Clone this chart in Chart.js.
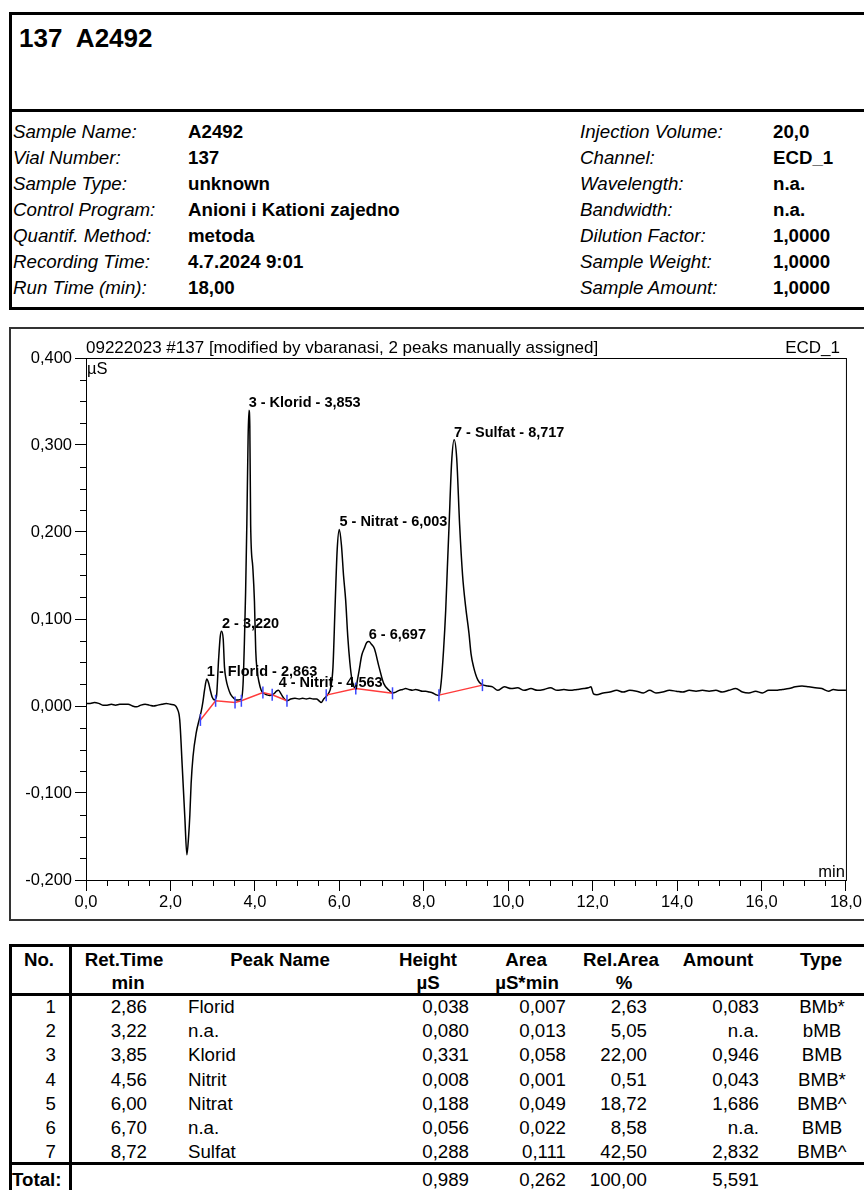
<!DOCTYPE html>
<html>
<head>
<meta charset="utf-8">
<title>137 A2492</title>
<script src="https://cdn.jsdelivr.net/npm/chart.js@4.4.1/dist/chart.umd.min.js"></script>
<style>
  body { margin: 0; width: 864px; height: 1190px; overflow: hidden; background: #fff; position: relative;
         font-family: "Liberation Sans", Arial, sans-serif; color: #000; }
  .t { position: absolute; white-space: nowrap; height: 26px; line-height: 26px; font-size: 18.7px; }
  .b { font-weight: bold; }
  .i { font-style: italic; }
  .line { position: absolute; background: #000; }
  #head-box { position: absolute; left: 9px; top: 12px; width: 900px; height: 298px; border: 3px solid #000; box-sizing: border-box; }
  #chart-box { position: absolute; left: 9px; top: 327px; width: 900px; height: 594px; border: 2px solid #333; box-sizing: border-box; }
  #chart { position: absolute; left: 0; top: 328px; }
</style>
</head>
<body>
<div id="head-box"></div>
<div class="line" style="left:9px;top:109px;width:900px;height:3px"></div>
<div class="t b" style="left:19px;top:25px;font-size:26px">137&nbsp; A2492</div>
<div id="info"></div>
<div id="chart-box"></div>
<canvas id="chart" width="864" height="592"></canvas>
<div id="peak-table"></div>

<script>
// ─── Data ─────────────────────────────────────────────────────────────────────

const infoLeft = [
  ["Sample Name:", "A2492"],
  ["Vial Number:", "137"],
  ["Sample Type:", "unknown"],
  ["Control Program:", "Anioni i Kationi zajedno"],
  ["Quantif. Method:", "metoda"],
  ["Recording Time:", "4.7.2024 9:01"],
  ["Run Time (min):", "18,00"],
];
const infoRight = [
  ["Injection Volume:", "20,0"],
  ["Channel:", "ECD_1"],
  ["Wavelength:", "n.a."],
  ["Bandwidth:", "n.a."],
  ["Dilution Factor:", "1,0000"],
  ["Sample Weight:", "1,0000"],
  ["Sample Amount:", "1,0000"],
];

// chromatogram trace (min, µS)
const timeMin = [
  0.00, 0.10, 0.20, 0.30, 0.40, 0.50, 0.60, 0.70, 0.80, 0.90, 1.00, 1.10, 1.20, 1.30, 1.40, 1.50,
  1.60, 1.70, 1.80, 1.90, 2.00, 2.10, 2.16, 2.22, 2.28, 2.34, 2.39, 2.43, 2.46, 2.49, 2.535, 2.61,
  2.69, 2.73, 2.77, 2.81, 2.86, 2.90, 2.94, 2.99, 3.04, 3.09, 3.14, 3.18, 3.21, 3.25, 3.28, 3.32,
  3.36, 3.42, 3.48, 3.55, 3.62, 3.68, 3.72, 3.75, 3.78, 3.81, 3.84, 3.86, 3.88, 3.90, 3.95, 3.99,
  4.02, 4.05, 4.10, 4.15, 4.20, 4.28, 4.35, 4.42, 4.47, 4.51, 4.56, 4.62, 4.67, 4.76, 4.85, 4.95,
  5.05, 5.13, 5.22, 5.30, 5.38, 5.46, 5.52, 5.57, 5.63, 5.69, 5.75, 5.80, 5.85, 5.90, 5.95, 6.00,
  6.05, 6.10, 6.15, 6.20, 6.25, 6.30, 6.35, 6.39, 6.43, 6.47, 6.53, 6.59, 6.65, 6.70, 6.76, 6.83,
  6.94, 7.05, 7.18, 7.26, 7.34, 7.42, 7.50, 7.57, 7.65, 7.73, 7.81, 7.89, 7.97, 8.05, 8.13, 8.21,
  8.29, 8.36, 8.41, 8.47, 8.52, 8.56, 8.60, 8.66, 8.72, 8.78, 8.85, 8.92, 8.99, 9.07, 9.12, 9.18,
  9.28, 9.37, 9.52, 9.63, 9.75, 9.91, 10.07, 10.22, 10.38, 10.54, 10.69, 10.85, 11.00, 11.16, 11.32, 11.47,
  11.63, 11.79, 11.90, 11.96, 12.02, 12.10, 12.25, 12.41, 12.57, 12.72, 12.88, 13.04, 13.20, 13.35, 13.50, 13.66,
  13.82, 13.98, 14.13, 14.29, 14.45, 14.60, 14.76, 14.92, 15.07, 15.23, 15.39, 15.55, 15.70, 15.86, 16.02, 16.17,
  16.33, 16.49, 16.65, 16.80, 16.96, 17.12, 17.27, 17.43, 17.59, 17.70, 17.85, 18.00,
];
const signalUS = [
  0.003, 0.003, 0.004, 0.003, 0.001, 0.001, 0.002, 0.001, 0.002, 0.002, 0.002, 0.000, -0.001, 0.001, 0.002, 0.001,
  0.000, 0.001, 0.002, 0.003, 0.002, 0.001, -0.003, -0.016, -0.070, -0.127, -0.171, -0.150, -0.125, -0.089, -0.058, -0.031,
  -0.014, -0.006, 0.005, 0.019, 0.031, 0.027, 0.019, 0.010, 0.007, 0.011, 0.053, 0.080, 0.086, 0.077, 0.045, 0.030,
  0.022, 0.014, 0.010, 0.007, 0.007, 0.008, 0.025, 0.070, 0.130, 0.210, 0.310, 0.340, 0.322, 0.208, 0.160, 0.120,
  0.064, 0.042, 0.027, 0.018, 0.015, 0.013, 0.012, 0.013, 0.015, 0.017, 0.018, 0.014, 0.010, 0.006, 0.008, 0.009,
  0.008, 0.009, 0.008, 0.009, 0.008, 0.008, 0.006, 0.004, 0.008, 0.011, 0.015, 0.022, 0.045, 0.115, 0.180, 0.203,
  0.185, 0.150, 0.122, 0.080, 0.050, 0.030, 0.022, 0.020, 0.030, 0.041, 0.058, 0.066, 0.073, 0.074, 0.071, 0.066,
  0.045, 0.026, 0.018, 0.015, 0.016, 0.018, 0.019, 0.020, 0.019, 0.018, 0.019, 0.018, 0.017, 0.017, 0.016, 0.015,
  0.013, 0.012, 0.026, 0.065, 0.110, 0.160, 0.208, 0.280, 0.306, 0.285, 0.208, 0.150, 0.115, 0.084, 0.060, 0.045,
  0.030, 0.025, 0.023, 0.022, 0.018, 0.022, 0.020, 0.021, 0.018, 0.020, 0.018, 0.019, 0.021, 0.018, 0.019, 0.018,
  0.019, 0.020, 0.021, 0.022, 0.014, 0.013, 0.015, 0.016, 0.018, 0.016, 0.018, 0.017, 0.015, 0.018, 0.015, 0.016,
  0.018, 0.017, 0.016, 0.018, 0.017, 0.018, 0.017, 0.018, 0.016, 0.018, 0.020, 0.016, 0.015, 0.017, 0.015, 0.018,
  0.018, 0.019, 0.020, 0.022, 0.023, 0.022, 0.021, 0.020, 0.017, 0.019, 0.018, 0.018,
];

// integration baseline (red), null = break between peak groups
const baseTime = [2.71, 3.07, 3.53, 3.68, 4.19, 4.41, 4.76, null, 5.69, 6.39, 7.26, null, 8.36, 9.39];
const baseUS   = [-0.016, 0.006, 0.004, 0.006, 0.0155, 0.013, 0.006, null, 0.0125, 0.020, 0.0146, null, 0.0125, 0.024];

const peakLabels = ["1 - Florid - 2,863", "2 - 3,220", "3 - Klorid - 3,853", "4 - Nitrit - 4,563",
                    "5 - Nitrat - 6,003", "6 - 6,697", "7 - Sulfat - 8,717"];
const peakTimes = [2.863, 3.220, 3.853, 4.563, 6.003, 6.697, 8.717];

// peak table
const peakNo   = ["1", "2", "3", "4", "5", "6", "7"];
const retTime  = ["2,86", "3,22", "3,85", "4,56", "6,00", "6,70", "8,72"];
const peakName = ["Florid", "n.a.", "Klorid", "Nitrit", "Nitrat", "n.a.", "Sulfat"];
const heightUS = ["0,038", "0,080", "0,331", "0,008", "0,188", "0,056", "0,288"];
const areaUS   = ["0,007", "0,013", "0,058", "0,001", "0,049", "0,022", "0,111"];
const relArea  = ["2,63", "5,05", "22,00", "0,51", "18,72", "8,58", "42,50"];
const amount   = ["0,083", "n.a.", "0,946", "0,043", "1,686", "n.a.", "2,832"];
const peakType = ["BMb*", "bMB", "BMB", "BMB*", "BMB^", "BMB", "BMB^"];
const totals   = { height: "0,989", area: "0,262", rel: "100,00", amount: "5,591" };

// ─── Page text ────────────────────────────────────────────────────────────────

function place(parent, text, x, yc, align, cls) {
  const el = document.createElement("div");
  el.className = "t " + (cls || "");
  el.textContent = text;
  el.style.top = (yc - 13) + "px";
  if (align === "right") { el.style.left = (x - 300) + "px"; el.style.width = "300px"; el.style.textAlign = "right"; }
  else if (align === "center") { el.style.left = (x - 150) + "px"; el.style.width = "300px"; el.style.textAlign = "center"; }
  else el.style.left = x + "px";
  parent.appendChild(el);
}

const info = document.getElementById("info");
infoLeft.forEach(([k, v], i) => {
  place(info, k, 13, 132 + i * 26, "left", "i");
  place(info, v, 188, 132 + i * 26, "left", "b");
});
infoRight.forEach(([k, v], i) => {
  place(info, k, 580, 132 + i * 26, "left", "i");
  place(info, v, 773, 132 + i * 26, "left", "b");
});

const tbl = document.getElementById("peak-table");
[[9, 944, 900, 3], [9, 993, 900, 3], [9, 1162, 900, 3]].forEach(([l, t, w, h]) => {
  const d = document.createElement("div");
  d.className = "line";
  Object.assign(d.style, { left: l + "px", top: t + "px", width: w + "px", height: h + "px" });
  tbl.appendChild(d);
});
[[9, 944], [69, 944]].forEach(([l, t]) => {
  const d = document.createElement("div");
  d.className = "line";
  Object.assign(d.style, { left: l + "px", top: t + "px", width: "3px", height: (1190 - t) + "px" });
  tbl.appendChild(d);
});

place(tbl, "No.", 39, 960, "center", "b");
place(tbl, "Ret.Time", 124, 960, "center", "b");
place(tbl, "min", 128, 983, "center", "b");
place(tbl, "Peak Name", 280, 960, "center", "b");
place(tbl, "Height", 428, 960, "center", "b");
place(tbl, "µS", 428, 983, "center", "b");
place(tbl, "Area", 526, 960, "center", "b");
place(tbl, "µS*min", 527, 983, "center", "b");
place(tbl, "Rel.Area", 621, 960, "center", "b");
place(tbl, "%", 624, 983, "center", "b");
place(tbl, "Amount", 718, 960, "center", "b");
place(tbl, "Type", 821, 960, "center", "b");

peakNo.forEach((n, i) => {
  const yc = 1007 + i * 24.2;
  place(tbl, n, 56, yc, "right");
  place(tbl, retTime[i], 147, yc, "right");
  place(tbl, peakName[i], 188, yc, "left");
  place(tbl, heightUS[i], 469, yc, "right");
  place(tbl, areaUS[i], 566, yc, "right");
  place(tbl, relArea[i], 647, yc, "right");
  place(tbl, amount[i], 759, yc, "right");
  place(tbl, peakType[i], 822, yc, "center");
});
place(tbl, "Total:", 12, 1180, "left", "b");
place(tbl, totals.height, 469, 1180, "right");
place(tbl, totals.area, 566, 1180, "right");
place(tbl, totals.rel, 647, 1180, "right");
place(tbl, totals.amount, 759, 1180, "right");

// ─── Chart ────────────────────────────────────────────────────────────────────

const FONT = '"Liberation Sans", Arial, sans-serif';
Chart.defaults.font.family = FONT;
Chart.defaults.color = "#000";

const isMajorX = v => Math.abs(Math.round(v * 10) % 20) === 0;
const isMajorY = v => Math.abs(Math.round(v * 1000) % 100) === 0;
const comma = (v, d) => (Math.round(v * 1000) / 1000).toFixed(d).replace(".", ",");

const trace = timeMin.map((t, i) => ({ x: t, y: signalUS[i] }));
const baseline = baseTime.map((t, i) => ({ x: t === null ? (baseTime[i - 1] + baseTime[i + 1]) / 2 : t, y: baseUS[i] }));
const bounds = baseline.filter(p => p.y !== null);

function apexOf(t) {
  let best = 0;
  timeMin.forEach((tm, i) => { if (Math.abs(tm - t) < Math.abs(timeMin[best] - t)) best = i; });
  return signalUS[best];
}

const decor = {
  id: "decor",
  afterDraw(chart) {
    const { ctx, chartArea: a, scales: { x, y } } = chart;
    ctx.save();
    ctx.strokeStyle = "#000";
    ctx.lineWidth = 1;
    ctx.strokeRect(a.left + 0.5, a.top + 0.5, a.right - a.left, a.bottom - a.top);

    // minor ticks (major ones come from the scales)
    ctx.beginPath();
    x.ticks.forEach(t => {
      if (isMajorX(t.value)) return;
      const px = Math.round(x.getPixelForValue(t.value)) + 0.5;
      ctx.moveTo(px, a.bottom); ctx.lineTo(px, a.bottom + 6);
    });
    y.ticks.forEach(t => {
      if (isMajorY(t.value)) return;
      const py = Math.round(y.getPixelForValue(t.value)) + 0.5;
      ctx.moveTo(a.left, py); ctx.lineTo(a.left - 6, py);
    });
    ctx.stroke();

    ctx.fillStyle = "#000";
    ctx.font = "17px " + FONT;
    ctx.textBaseline = "alphabetic";
    ctx.textAlign = "left";
    ctx.fillText("09222023 #137 [modified by vbaranasi, 2 peaks manually assigned]", a.left, a.top - 5);
    ctx.textAlign = "right";
    ctx.fillText("ECD_1", a.right - 6, a.top - 5);

    ctx.font = "16.5px " + FONT;
    ctx.textAlign = "left";
    ctx.textBaseline = "top";
    ctx.fillText("µS", a.left + 1, a.top + 3);
    ctx.textAlign = "right";
    ctx.textBaseline = "alphabetic";
    ctx.fillText("min", a.right - 1, a.bottom - 3);

    ctx.font = "bold 14.5px " + FONT;
    ctx.textAlign = "left";
    ctx.textBaseline = "alphabetic";
    peakLabels.forEach((lbl, i) => {
      ctx.fillText(lbl, x.getPixelForValue(peakTimes[i]), y.getPixelForValue(apexOf(peakTimes[i])) - 3);
    });
    ctx.restore();
  },
};

new Chart(document.getElementById("chart"), {
  type: "line",
  data: {
    datasets: [
      {
        label: "Boundaries",
        data: bounds,
        showLine: false,
        pointStyle: "line",
        rotation: 90,
        pointRadius: 6,
        pointBorderWidth: 1.5,
        pointBorderColor: "#3a46ff",
        order: 0,
      },
      {
        label: "Baseline",
        data: baseline,
        borderColor: "#ff3b3b",
        borderWidth: 1.5,
        pointRadius: 0,
        spanGaps: false,
        order: 1,
      },
      {
        label: "ECD_1",
        data: trace,
        borderColor: "#000",
        borderWidth: 1.5,
        pointRadius: 0,
        cubicInterpolationMode: "monotone",
        order: 2,
      },
    ],
  },
  options: {
    responsive: false,
    animation: false,
    devicePixelRatio: 1,
    layout: { padding: { top: 30, right: 16, left: 0, bottom: 0 } },
    plugins: { legend: { display: false }, tooltip: { enabled: false } },
    scales: {
      x: {
        type: "linear",
        min: 0,
        max: 18,
        afterFit: s => { s.height = 40; },
        border: { display: true, color: "#000", width: 1 },
        grid: {
          drawOnChartArea: false,
          tickLength: 11,
          tickColor: c => (isMajorX(c.tick.value) ? "#000" : "rgba(0,0,0,0)"),
        },
        ticks: {
          stepSize: 0.5,
          autoSkip: false,
          maxRotation: 0,
          padding: 2,
          font: { size: 16.5 },
          callback: v => (isMajorX(v) ? comma(v, 1) : ""),
        },
      },
      y: {
        min: -0.2,
        max: 0.4,
        afterFit: s => { s.width = 86; },
        border: { display: true, color: "#000", width: 1 },
        grid: {
          drawOnChartArea: false,
          tickLength: 11,
          tickColor: c => (isMajorY(c.tick.value) ? "#000" : "rgba(0,0,0,0)"),
        },
        ticks: {
          stepSize: 0.025,
          autoSkip: false,
          padding: 3,
          font: { size: 16.5 },
          callback: v => (isMajorY(v) ? comma(v, 3) : ""),
        },
      },
    },
  },
  plugins: [decor],
});
</script>
</body>
</html>
